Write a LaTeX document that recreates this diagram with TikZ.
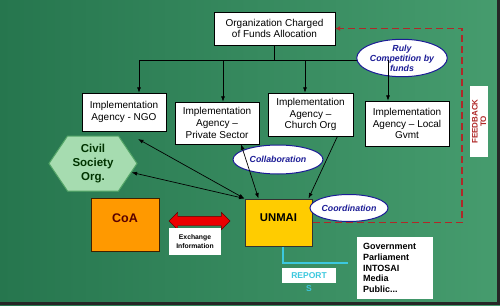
\documentclass[tikz,border=0pt]{standalone}
\usepackage{fontspec}
\setmainfont{Liberation Sans}
\usepackage{tikz}
\usetikzlibrary{shapes.geometric,shapes.symbols,shapes.arrows,arrows.meta,positioning,calc}
\definecolor{bgdark}{RGB}{38,118,78}
\definecolor{bglight}{RGB}{70,156,110}
\definecolor{hexfill}{RGB}{166,220,176}
\definecolor{hexline}{RGB}{84,166,104}
\definecolor{coaorange}{RGB}{255,153,0}
\definecolor{unmaiyellow}{RGB}{255,204,0}
\definecolor{ovalblue}{RGB}{28,28,150}
\definecolor{fbred}{RGB}{176,40,40}
\definecolor{rptcyan}{RGB}{60,200,222}

\tikzset{
  agency/.style={draw=black, fill=white, align=center, inner sep=1pt,
    font=\fontsize{10}{11.8}\selectfont},
  oval/.style={ellipse, draw=ovalblue, line width=1pt, fill=white, align=center,
    inner sep=0pt, text=ovalblue, font=\fontsize{8.8}{10}\selectfont\bfseries\itshape},
  flow/.style={-{Latex[length=5.5pt,width=4pt]}, line width=0.7pt},
  link/.style={{Latex[length=5.5pt,width=4pt]}-{Latex[length=5.5pt,width=4pt]}, line width=0.7pt},
  fbline/.style={draw=fbred, line width=1.6pt, dash pattern=on 7pt off 4pt,
    -{Latex[length=5pt,width=5pt]}},
  rptline/.style={draw=rptcyan, line width=1.2pt},
  panel/.style={fill=white, inner sep=0pt}
}

\begin{document}
\begin{tikzpicture}[x=1pt,y=-1pt]
\useasboundingbox (0,0) rectangle (500,305);
\shade[left color=bgdark, right color=bglight] (0,0) rectangle (500,305);
\fill[black!85] (0,302) rectangle (500,305);
\fill[black!85] (497,0) rectangle (500,305);

\node[agency, minimum width=121, minimum height=33] (org) at (274.5,28.5) {Organization Charged\\of Funds Allocation};
\node[agency, minimum width=84, minimum height=38] (ngo) at (124,112) {Implementation\\Agency - NGO};
\node[agency, minimum width=84, minimum height=42] (private) at (217,123) {Implementation\\Agency --\\Private Sector};
\node[agency, minimum width=85, minimum height=43] (church) at (310.5,114.5) {Implementation\\Agency --\\Church Org};
\node[agency, minimum width=84, minimum height=45] (local) at (407,123.5) {Implementation\\Agency -- Local\\Gvmt};

\draw[line width=0.8pt] (org.south) -- (org.south |- 0,60);
\draw[line width=0.8pt] (139,60) -- (388,60);
\node[oval, minimum width=82, minimum height=34] (ruly) at (402,58) {Ruly\\Competition by\\funds};
\foreach \x/\n in {139/ngo,223/private,305/church,388/local}
  \draw[flow] (\x,60) -- (\n.north -| \x,60);

\node[signal, signal to=west and east, signal pointer angle=112, fill=hexfill, draw=hexline,
  line width=1pt, minimum width=88, minimum height=55, inner sep=0pt, align=center,
  text=black!80!green, font=\fontsize{11.5}{14}\selectfont\bfseries] (cso) at (93,163.5) {Civil\\Society\\Org.};

\node[draw=black!75!orange, fill=coaorange, line width=1pt, minimum width=68, minimum height=53,
  text height=9pt, text depth=14pt, text=black!65!red,
  font=\fontsize{12.5}{14}\selectfont\bfseries] (coa) at (125,224.5) {CoA};
\node[draw=black!80, fill=unmaiyellow, line width=1pt, minimum width=67, minimum height=47,
  text height=8pt, text depth=11pt, font=\fontsize{11.3}{13}\selectfont\bfseries] (unmai) at (278.5,222.5) {UNMAI};

\node[double arrow, fill=red!92!black, draw=black!60!red, minimum height=61, minimum width=17,
  double arrow head extend=4pt, inner xsep=0pt, inner ysep=4.5pt] (xchg) at (199.5,221) {};
\node[panel, minimum width=52, minimum height=27, align=center,
  font=\fontsize{6.8}{8.5}\selectfont\bfseries] (xinfo) at (195,241.5) {Exchange\\Information};

\node[oval, minimum width=90, minimum height=29] (collab) at (278,159.5) {Collaboration};
\node[oval, minimum width=78, minimum height=27] (coord) at (349,208) {Coordination};

\draw[link, shorten >=16pt] (unmai.north west) -- (ngo.south);
\draw[link] (unmai.north west) -- (cso);
\draw[link] ([xshift=24pt]private.south) -- ([xshift=-20pt]unmai.north);
\draw[flow] ([xshift=27pt]church.south) -- ([xshift=-4pt]unmai.north east);

\coordinate (fbcorner) at (462,28.5);
\draw[fbline] (unmai.east) -| (fbcorner) -- (org.east);
\node[panel, rotate=90, minimum width=71, minimum height=18, align=center, text=fbred,
  font=\fontsize{8}{8.5}\selectfont\bfseries] (fbtag) at (479,121.5) {FEEDBACK\\TO};

\coordinate (rptend) at (348,263);
\draw[rptline] ([xshift=4.5pt]unmai.south) |- (rptend);
\node[panel, minimum width=54, minimum height=15, text=rptcyan, font=\fontsize{8.5}{9}\selectfont\bfseries,
  label={[text=rptcyan, font=\fontsize{8.5}{9}\selectfont\bfseries, inner sep=0pt, label distance=2pt]below:S}]
  (rpt) at (309,275.5) {REPORT};
\node[panel, minimum width=76, minimum height=62, text width=64, align=left,
  font=\fontsize{9}{10.7}\selectfont\bfseries] (gov) at (395,268) {Government\\Parliament\\INTOSAI\\Media\\Public...};
\end{tikzpicture}
\end{document}
